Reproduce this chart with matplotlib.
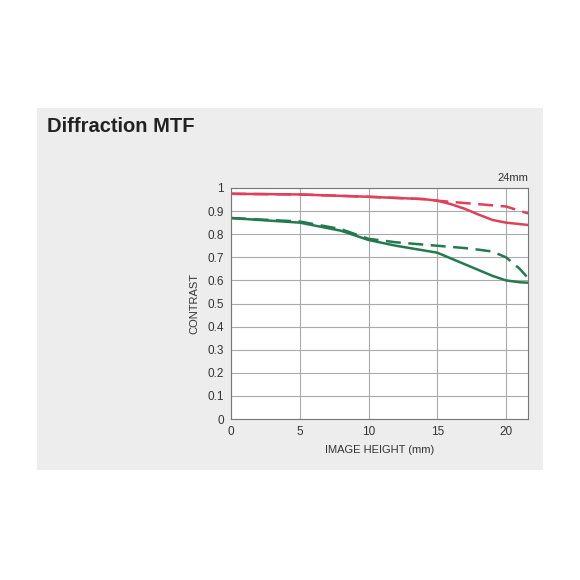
import matplotlib
matplotlib.use("Agg")
import matplotlib.pyplot as plt
from matplotlib.patches import Rectangle

plt.rcParams["font.family"] = ["Liberation Sans", "DejaVu Sans"]

# MTF curves (image height in mm, contrast)
red_x = [0, 5, 10, 14, 15, 16, 17, 18, 19, 20, 21.6]
red_solid = [0.975, 0.972, 0.962, 0.952, 0.945, 0.93, 0.91, 0.885, 0.862, 0.85, 0.84]
red_dashed = [0.975, 0.972, 0.962, 0.952, 0.945, 0.94, 0.935, 0.93, 0.925, 0.92, 0.89]
green_x = [0, 5, 8, 10, 12, 15, 16, 17, 18, 19, 20, 21, 21.6]
green_solid = [0.87, 0.85, 0.815, 0.775, 0.75, 0.72, 0.695, 0.67, 0.645, 0.62, 0.60, 0.592, 0.59]
green_dashed = [0.87, 0.855, 0.822, 0.78, 0.765, 0.75, 0.745, 0.74, 0.733, 0.725, 0.70, 0.65, 0.61]

RED = "#e0405a"
GREEN = "#237a4f"

fig = plt.figure(figsize=(5.8, 5.8), dpi=100)
fig.patch.set_facecolor("white")
fig.patches.append(Rectangle((37 / 580, 1 - 470 / 580), 506 / 580, 362 / 580,
                             transform=fig.transFigure, facecolor="#ededed",
                             edgecolor="none", zorder=-10))
fig.text(47 / 580, 1 - 127 / 580, "Diffraction MTF", fontsize=14.5,
         fontweight="bold", color="#222222", va="center")

ax = fig.add_axes([231 / 580, 1 - 419 / 580, 297 / 580, 231 / 580])
ax.set_zorder(5)
ax.set_facecolor("white")
ax.plot(red_x, red_solid, color=RED, lw=1.8)
ax.plot(red_x, red_dashed, color=RED, lw=1.8, ls=(0, (6, 3)))
ax.plot(green_x, green_solid, color=GREEN, lw=1.8)
ax.plot(green_x, green_dashed, color=GREEN, lw=1.8, ls=(0, (6, 3)))

ax.set_xlim(0, 21.6)
ax.set_ylim(0, 1)
ax.set_xticks([0, 5, 10, 15, 20])
ax.set_yticks([i / 10 for i in range(11)])
ax.set_yticklabels(["0"] + [f"{i / 10:.1f}" for i in range(1, 10)] + ["1"])
ax.grid(color="#aaaaaa", lw=0.8)
ax.set_axisbelow(True)
for s in ax.spines.values():
    s.set_color("#777777")
ax.tick_params(length=0, labelsize=8.5, colors="#333333", pad=5)
ax.set_xlabel("IMAGE HEIGHT (mm)", fontsize=8, color="#333333", labelpad=5)
ax.set_ylabel("CONTRAST", fontsize=8, color="#333333", labelpad=6)
ax.text(1.0, 1.02, "24mm", transform=ax.transAxes, ha="right", va="bottom",
        fontsize=8, color="#333333")

fig.savefig("out.png", dpi=100)
